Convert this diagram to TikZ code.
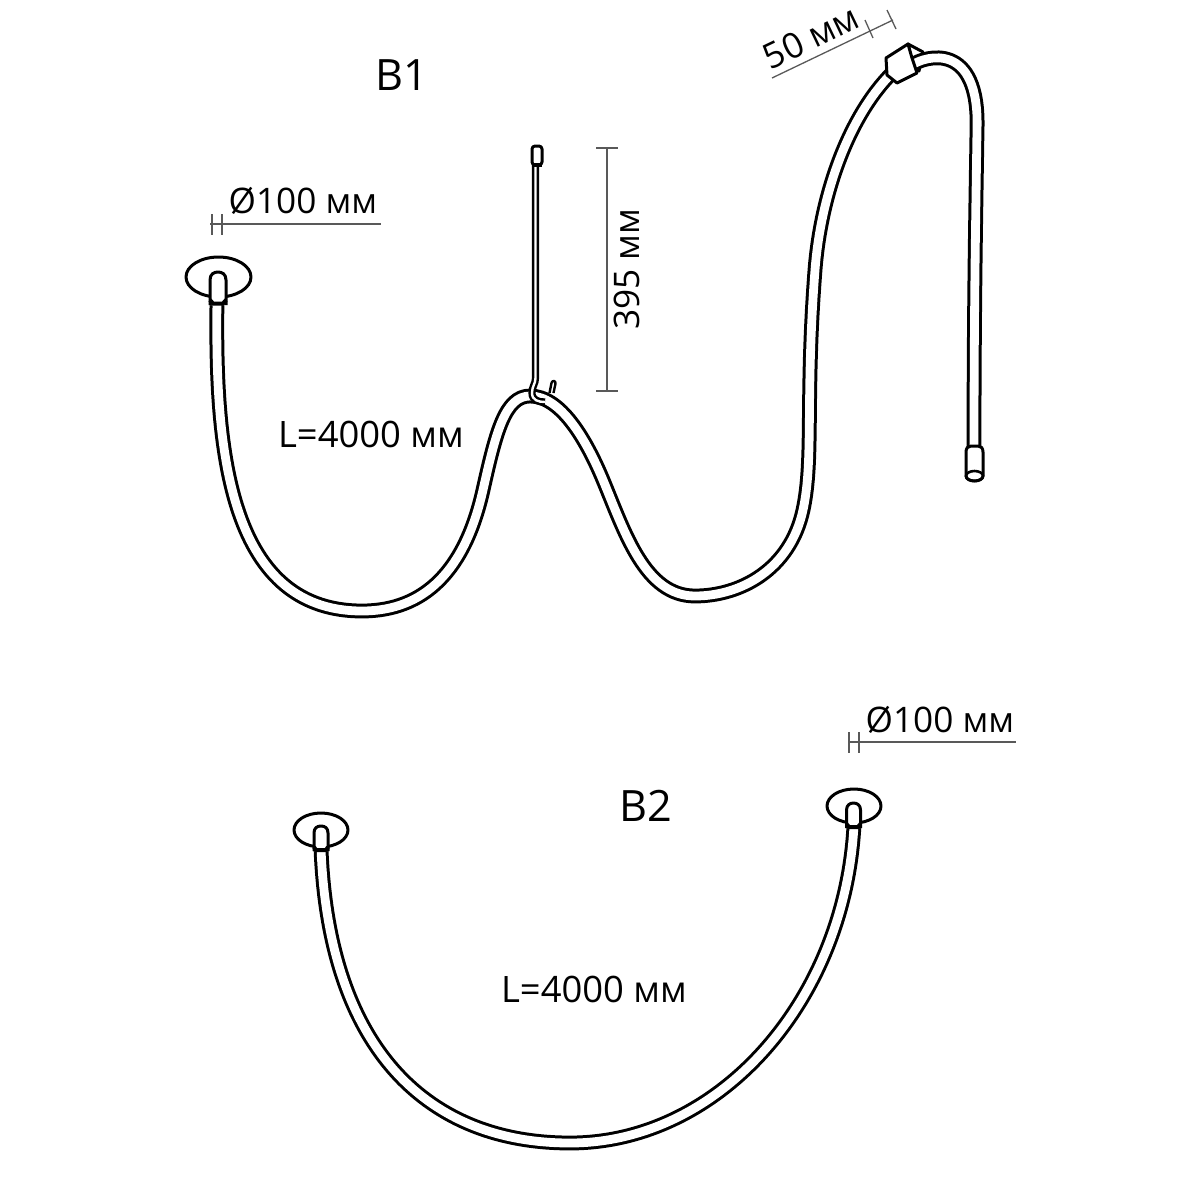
\documentclass[tikz,border=0pt]{standalone}
\usepackage{fontspec}
\setmainfont{Open Sans}
\definecolor{dimgray}{gray}{0.35}
\tikzset{
  x=0.5pt,y=-0.5pt,
  cable/.style={line width=1.5pt,double=white,double distance=4.4pt,line cap=butt,line join=round},
  wire/.style={line width=1.2pt,double=white,double distance=1.2pt},
  part/.style={line width=1.5pt,fill=white,line join=round},
  collar/.style={line width=2pt,line join=round},
  dimline/.style={draw=dimgray,line width=0.65pt},
  lbl/.style={font=\fontsize{18.2}{20}\selectfont,inner sep=0pt},
  dimlbl/.style={font=\fontsize{17.6}{20}\selectfont,inner sep=0pt},
  title/.style={font=\fontsize{21.6}{24}\selectfont,inner sep=0pt},
}
\begin{document}
\begin{tikzpicture}
\useasboundingbox (0,0) rectangle (1200,1200);
% discs
\draw[part] (218.5,277) ellipse [x radius=32.5,y radius=20];
\draw[part] (854,806) ellipse [x radius=27,y radius=17];
\draw[part] (321,830) ellipse [x radius=27,y radius=17];
% hanger pin
\draw[part,line width=1.2pt] (549.5,393) -- (551.5,383) .. controls (552,380) and (556,380.5) .. (555.5,383.5) -- (553.5,393);
% B1 cable, left part to the clamp
\draw[cable] (217,300) .. controls (215,440) and (225,611) .. (362,611)
  .. controls (425,611) and (465,570) .. (483,490)
  .. controls (496,432) and (505,396) .. (530,396)
  .. controls (560,396) and (585,437) .. (603,480)
  .. controls (625,533) and (645,596) .. (695,596)
  .. controls (740,596) and (790,570) .. (803,510)
  .. controls (814,459) and (805,400) .. (815,270)
  .. controls (821,192) and (850,115) .. (892,73);
% clamp, rear part
\draw[part] (908,44) -- (923,52) -- (919,71) -- (912,62) -- cycle;
% B1 cable, from the clamp to the end
\draw[cable] (912,65) .. controls (925,56) and (980,40) .. (977,130)
  .. controls (976,200) and (974,300) .. (974,450);
% clamp, front part
\draw[part] (886,58) -- (908,44) -- (912,58) -- (917,73) -- (897,83) -- (887,75) -- cycle;
% B1 end cap
\draw[part] (966,452) .. controls (966,448) and (968,446) .. (971,446) -- (978,446) .. controls (981,446) and (983,448) .. (983,452) -- (983,476) arc [start angle=0,end angle=-180,x radius=8.5,y radius=-5] -- cycle;
\draw[line width=1.3pt] (974.5,476) ellipse [x radius=8.5,y radius=5];
% B1 left socket
\draw[part] (210,305) -- (210,280) .. controls (210,274) and (214,272) .. (218,272) .. controls (222,272) and (226,274) .. (226,280) -- (226,305);
\draw[collar] (210,300) -- (213,303.5) -- (223,303.5) -- (226,300);
% hanger
\draw[wire] (535.5,165) -- (535.5,378) .. controls (535.5,384) and (532,386) .. (532,393) .. controls (532,400) and (538,402) .. (545,402);
\draw[part,rounded corners=1.5pt] (532,146) rectangle (542,165);
\draw[collar] (532,165) -- (542,165);
% B2 cable
\draw[cable] (321,848) .. controls (328,1040) and (420,1143) .. (570,1143)
  .. controls (720,1143) and (845,1000) .. (854,825);
% B2 sockets
\draw[part] (314,851) -- (314,833) .. controls (314,828) and (317,826) .. (321,826) .. controls (325,826) and (328,828) .. (328,833) -- (328,851);
\draw[collar] (314,847) -- (316,850) -- (326,850) -- (328,847);
\draw[part] (846.5,828) -- (846.5,810) .. controls (846.5,805) and (850,803) .. (853.5,803) .. controls (857,803) and (860.5,805) .. (860.5,810) -- (860.5,828);
\draw[collar] (846.5,824) -- (849,827) -- (858,827) -- (860.5,824);
% dimensions
\coordinate (d1a) at (210,224); \coordinate (d1b) at (381,224);
\draw[dimline] (d1a) -- (d1b);
\draw[dimline] (212,214) -- (212,235) (222,214) -- (222,235);
\coordinate (d2a) at (849,742); \coordinate (d2b) at (1016,742);
\draw[dimline] (d2a) -- (d2b);
\draw[dimline] (849,732) -- (849,753) (859,732) -- (859,753);
\coordinate (d3a) at (607,148); \coordinate (d3b) at (607,391);
\draw[dimline] (d3a) -- (d3b);
\draw[dimline] (596,148) -- (618,148) (596,391) -- (618,391);
\coordinate (d4a) at (772,78); \coordinate (d4b) at (893,20);
\draw[dimline] (d4a) -- (d4b);
\draw[dimline] (865,20) -- (873,38) (887,10) -- (896,29);
% labels
\node[title] (b1) at (402,75) {B1};
\node[title] (b2) at (646,806) {B2};
\node[dimlbl] (dia1) at (303,201) {Ø100 мм};
\node[dimlbl] (dia2) at (940,720) {Ø100 мм};
\node[lbl] (len1) at (371,434) {L=4000 мм};
\node[lbl] (len2) at (594,989) {L=4000 мм};
\node[dimlbl,rotate=90] (h395) at (627,269) {395 мм};
\node[dimlbl,rotate=25.6] (w50) at (811,37) {50 мм};
\end{tikzpicture}
\end{document}
